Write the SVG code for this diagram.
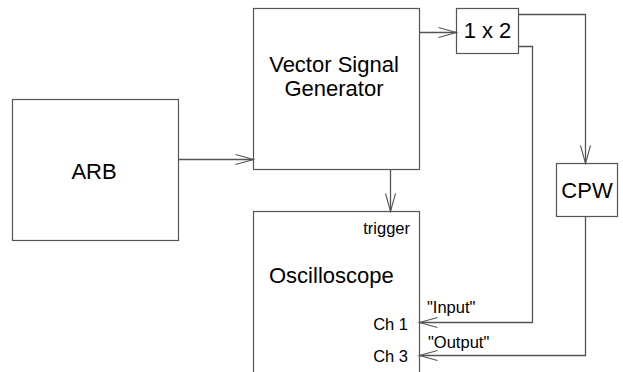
<svg xmlns="http://www.w3.org/2000/svg" width="623" height="372" viewBox="0 0 623 372">
  <style>
    .box { fill: #ffffff; stroke: #555555; stroke-width: 1.2; }
    .wire { fill: none; stroke: #555555; stroke-width: 1.3; }
    .big { font-family: "Liberation Sans", Arial, sans-serif; font-size: 22px; fill: #000000; }
    .small { font-family: "Liberation Sans", Arial, sans-serif; font-size: 16.5px; fill: #000000; }
  </style>
  <defs>
    <marker id="open-arrow" markerUnits="userSpaceOnUse" markerWidth="24" markerHeight="14" viewBox="-20 -7 22 14" refX="0" refY="0" orient="auto" overflow="visible">
      <path d="M-18,-5 L0,0 L-18,5" fill="none" stroke="#555555" stroke-width="1.1"/>
    </marker>
  </defs>
  <rect width="623" height="372" fill="#ffffff"/>

  <g id="arb">
    <rect class="box" x="12.5" y="99.5" width="166" height="141"/>
    <text class="big" x="94" y="179" text-anchor="middle">ARB</text>
  </g>

  <g id="vsg">
    <rect class="box" x="253.5" y="8.5" width="166" height="161"/>
    <text class="big" x="334" y="72" text-anchor="middle">Vector Signal</text>
    <text class="big" x="334" y="96" text-anchor="middle">Generator</text>
  </g>

  <g id="splitter">
    <rect class="box" x="456.5" y="8.5" width="62" height="45"/>
    <text class="big" x="487.5" y="38" text-anchor="middle">1 x 2</text>
  </g>

  <g id="cpw">
    <rect class="box" x="556.5" y="163.5" width="61" height="53"/>
    <text class="big" x="587" y="198" text-anchor="middle">CPW</text>
  </g>

  <g id="oscilloscope">
    <rect class="box" x="253.5" y="211.5" width="166" height="180"/>
    <text class="small" x="410" y="234" text-anchor="end">trigger</text>
    <text class="big" x="269" y="283">Oscilloscope</text>
    <text class="small" x="408" y="330" text-anchor="end">Ch 1</text>
    <text class="small" x="408" y="362" text-anchor="end">Ch 3</text>
  </g>

  <g id="connectors">
    <path class="wire" d="M178.5,159.5 L253.5,159.5" marker-end="url(#open-arrow)"/>
    <path class="wire" d="M419.5,32.5 L456.5,32.5" marker-end="url(#open-arrow)"/>
    <path class="wire" d="M390.5,169.5 L390.5,211.5" marker-end="url(#open-arrow)"/>
    <path class="wire" d="M518.5,14.5 L585.5,14.5 L585.5,163.5" marker-end="url(#open-arrow)"/>
    <path class="wire" d="M518.5,46.5 L532.5,46.5 L532.5,322.5 L419.5,322.5" marker-end="url(#open-arrow)"/>
    <path class="wire" d="M585.5,216.5 L585.5,355.5 L419.5,355.5" marker-end="url(#open-arrow)"/>
    <text class="small" x="427" y="313">"Input"</text>
    <text class="small" x="428" y="348">"Output"</text>
  </g>
</svg>
